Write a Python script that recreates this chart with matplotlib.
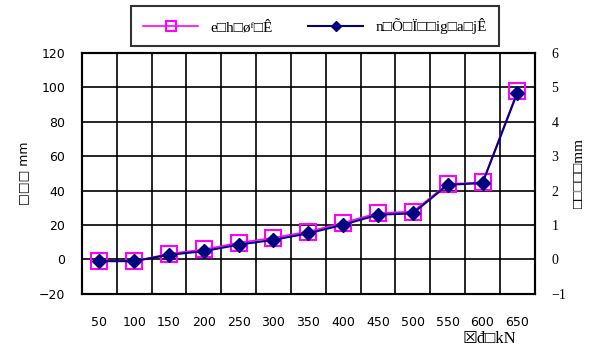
import matplotlib
matplotlib.use('Agg')
import matplotlib.pyplot as plt

loads = ['50', '100', '150', '200', '250', '300', '350', '400',
         '450', '500', '550', '600', '650']
left_vals = [-1, -1, 3.3, 5.8, 9.7, 12.6, 16.2, 21.3, 27.0, 27.8, 43.9, 44.8, 97.7]
right_vals = [-0.05, -0.05, 0.135, 0.24, 0.43, 0.57, 0.76, 1.01, 1.30, 1.34, 2.17, 2.22, 4.85]
name_left = 'e□h□ø\u1da0□Ê'
name_right = 'n□Õ□Ï□□ig□a□jÊ'

fig = plt.figure(figsize=(5.89, 3.49), dpi=100)
ax = fig.add_axes([0.139, 0.158, 0.769, 0.69])
ax2 = ax.twinx()

x = list(range(len(loads)))
l1, = ax.plot(x, left_vals, color='#ff00ff', lw=1.2, marker='s', ms=11,
              mfc='none', mec='#ff00ff', mew=1.5, label=name_left)
l2, = ax2.plot(x, right_vals, color='#000080', lw=1.5, marker='D', ms=7.5,
               mfc='#000080', mec='#000080', label=name_right)

ax.set_xlim(-0.5, len(loads) - 0.5)
ax.set_ylim(-20, 120)
ax.set_yticks(range(-20, 121, 20))
ax2.set_ylim(-1, 6)
ax2.set_yticks(range(-1, 7))

ax.set_xticks(x)
ax.set_xticklabels(loads, fontsize=9)
ax.set_xticks([i + 0.5 for i in x[:-1]], minor=True)
ax.grid(True, which='minor', axis='x', color='black', lw=1.2)
ax.grid(True, which='major', axis='y', color='black', lw=1.2)
ax.tick_params(axis='x', which='both', length=0, pad=16)
ax.tick_params(axis='y', length=0, pad=12, labelsize=9)
ax2.tick_params(axis='y', length=0, pad=12)
for t in ax2.get_yticklabels():
    t.set_fontfamily('Liberation Serif')
    t.set_fontsize(10)
for s in list(ax.spines.values()) + list(ax2.spines.values()):
    s.set_linewidth(1.5)

ax.set_ylabel('□□□ mm', fontsize=9, labelpad=6)
ax2.set_ylabel('□□□□□mm', fontsize=11, family='Liberation Serif', labelpad=5)
ax.set_xlabel('☒đ□kN', fontsize=12, family=['Liberation Serif', 'DejaVu Sans'])
ax.xaxis.set_label_coords(0.90, -0.155)

leg = fig.legend(handles=[l1, l2], loc='center', bbox_to_anchor=(0.535, 0.925),
                 ncol=2, frameon=True, fancybox=False, edgecolor='black',
                 prop={'family': ['Liberation Serif', 'DejaVu Sans'], 'size': 11},
                 columnspacing=2.3, handlelength=3.6, borderpad=0.8,
                 markerscale=0.7)
leg.get_frame().set_linewidth(1.5)

fig.savefig('out.png', dpi=100)
